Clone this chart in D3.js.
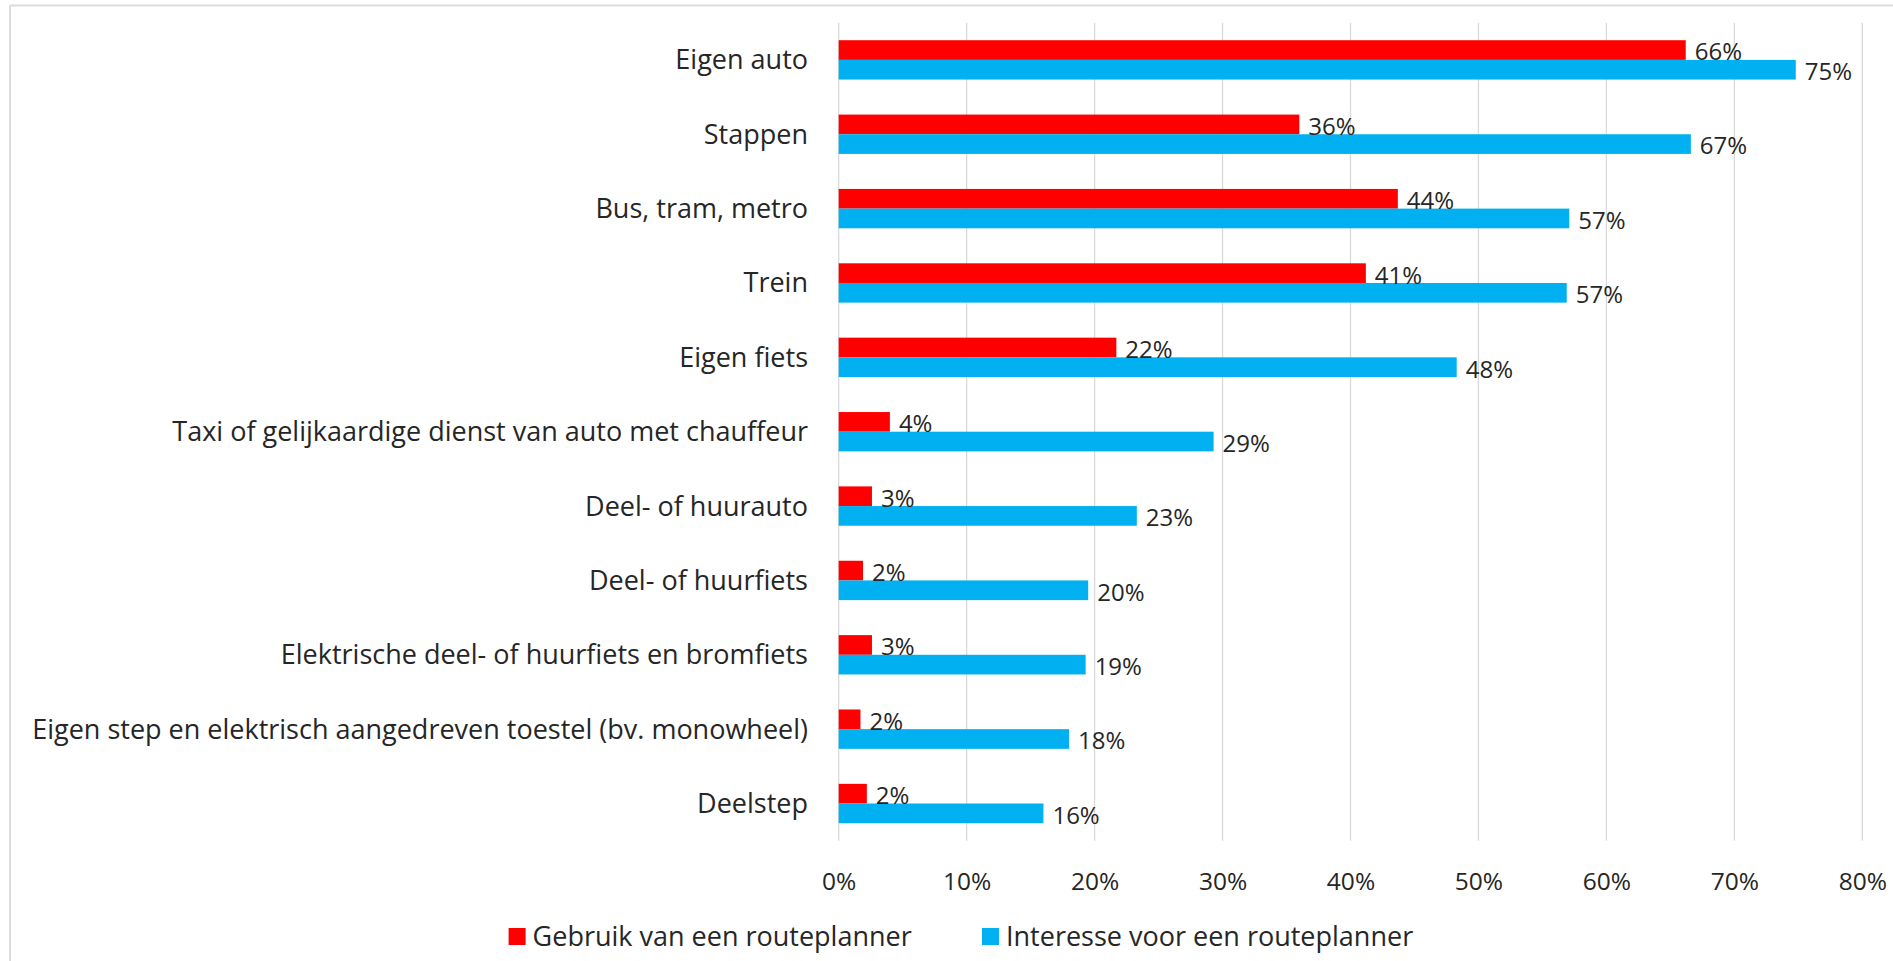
<!DOCTYPE html>
<html>
<head>
<meta charset="utf-8">
<script src="https://cdn.jsdelivr.net/npm/d3@7"></script>
<style>
  html, body { margin: 0; padding: 0; background: #fff; }
  svg { display: block; }
  text { font-family: "Open Sans", "Noto Sans", sans-serif; fill: #262626; }
</style>
</head>
<body>
<svg id="chart" width="1893" height="961"></svg>
<script>
const categories = [
  "Eigen auto",
  "Stappen",
  "Bus, tram, metro",
  "Trein",
  "Eigen fiets",
  "Taxi of gelijkaardige dienst van auto met chauffeur",
  "Deel- of huurauto",
  "Deel- of huurfiets",
  "Elektrische deel- of huurfiets en bromfiets",
  "Eigen step en elektrisch aangedreven toestel (bv. monowheel)",
  "Deelstep"
];
const gebruik = [66.2, 36.0, 43.7, 41.2, 21.7, 4.0, 2.6, 1.9, 2.6, 1.7, 2.2];
const interesse = [74.8, 66.6, 57.1, 56.9, 48.3, 29.3, 23.3, 19.5, 19.3, 18.0, 16.0];
const seriesNames = ["Gebruik van een routeplanner", "Interesse voor een routeplanner"];
const seriesColors = ["#FF0000", "#00B0F0"];
const xTicks = [0, 10, 20, 30, 40, 50, 60, 70, 80];

const svg = d3.select("#chart");
const FONT = '"Open Sans", "Noto Sans", sans-serif';

// frame (top and left border)
svg.append("line").attr("x1", 10).attr("x2", 1893).attr("y1", 5.5).attr("y2", 5.5)
  .attr("stroke", "#dcdcdc").attr("stroke-width", 2);
svg.append("line").attr("x1", 10).attr("x2", 10).attr("y1", 5.5).attr("y2", 961)
  .attr("stroke", "#dcdcdc").attr("stroke-width", 2);

const x = d3.scaleLinear().domain([0, 80]).range([838.7, 1862.3]);
const y0 = d3.scaleBand().domain(categories).range([22.7, 840.7]).paddingInner(0).paddingOuter(0);
const y1 = d3.scaleBand().domain(seriesNames).range([0, y0.bandwidth()]).paddingInner(0).paddingOuter(0.89);

// gridlines
svg.append("g").selectAll("line").data(xTicks).join("line")
  .attr("x1", d => x(d)).attr("x2", d => x(d))
  .attr("y1", 22.7).attr("y2", 840.7)
  .attr("stroke", "#d9d9d9").attr("stroke-width", 1.3);

// x axis labels
const xAxis = d3.axisBottom(x).tickValues(xTicks).tickSize(0).tickPadding(0).tickFormat(d => d + "%");
const gx = svg.append("g").attr("transform", "translate(0,881)").call(xAxis);
gx.select(".domain").remove();
gx.selectAll("text").attr("dy", "0.35em").attr("y", 0)
  .style("font-family", FONT).style("font-size", "24.5px").attr("fill", "#262626");

// category labels
const yAxis = d3.axisLeft(y0).tickSize(0).tickPadding(0);
const gy = svg.append("g").attr("transform", "translate(808,0)").call(yAxis);
gy.select(".domain").remove();
gy.selectAll("text").attr("x", 0).attr("dy", "0.35em")
  .style("font-family", FONT).style("font-size", "27px").attr("fill", "#262626");

const rows = categories.map((c, i) => ({ cat: c, vals: [gebruik[i], interesse[i]] }));

const groups = svg.append("g").selectAll("g").data(rows).join("g")
  .attr("transform", d => `translate(0,${y0(d.cat)})`);

groups.selectAll("rect").data(d => d.vals.map((v, j) => ({ v, s: seriesNames[j], j }))).join("rect")
  .attr("x", x(0))
  .attr("y", d => y1(d.s))
  .attr("width", d => x(d.v) - x(0))
  .attr("height", y1.bandwidth())
  .attr("fill", d => seriesColors[d.j]);

groups.selectAll("text.lbl").data(d => d.vals.map((v, j) => ({ v, s: seriesNames[j], j }))).join("text")
  .attr("class", "lbl")
  .attr("x", d => x(d.v) + 9)
  .attr("y", d => y1(d.s) + y1.bandwidth() / 2 + 2)
  .attr("dy", "0.35em")
  .style("font-size", "24px")
  .text(d => Math.round(d.v) + "%");

// legend
const legendItems = [
  { name: seriesNames[0], color: seriesColors[0], x: 508.6 },
  { name: seriesNames[1], color: seriesColors[1], x: 982 }
];
const lg = svg.append("g").selectAll("g").data(legendItems).join("g")
  .attr("transform", d => `translate(${d.x},936.5)`);
lg.append("rect").attr("x", 0).attr("y", -8.5).attr("width", 17).attr("height", 17).attr("fill", d => d.color);
lg.append("text").attr("x", 24).attr("y", 0).attr("dy", "0.35em").style("font-size", "27px").text(d => d.name);
</script>
</body>
</html>
